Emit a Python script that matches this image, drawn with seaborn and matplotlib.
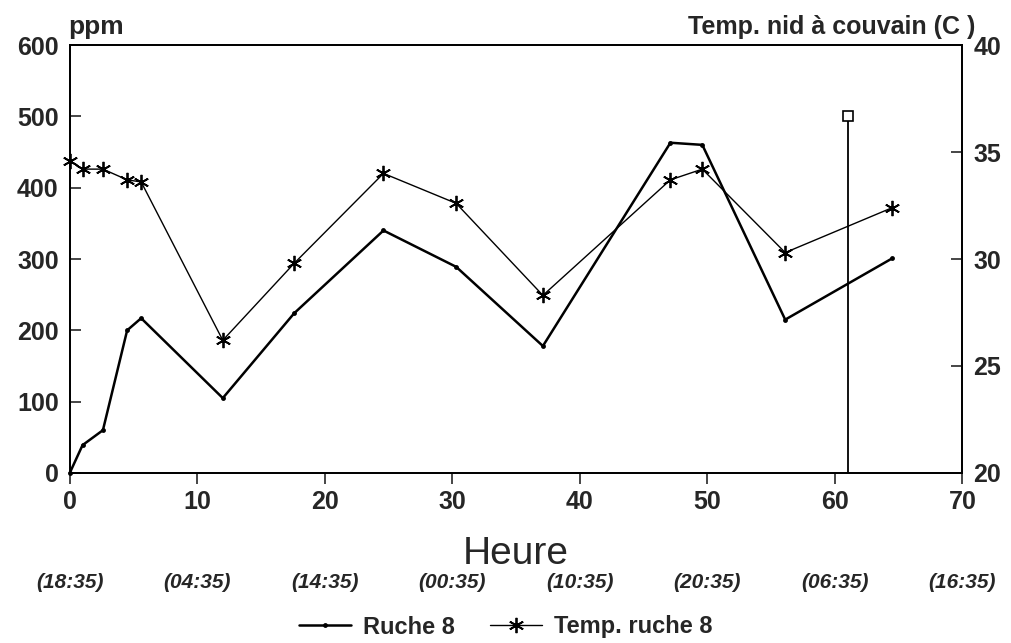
import numpy as np
import seaborn as sns
import matplotlib
matplotlib.use("Agg")
import matplotlib.pyplot as plt

# data
heures = [0, 1, 2.6, 4.5, 5.6, 12, 17.6, 24.6, 30.3, 37.1, 47.1, 49.6, 56.1, 64.5]
ppm_ruche8 = [0, 39, 60, 200, 217, 105, 224, 340, 289, 178, 463, 460, 215, 301]
temp_ruche8 = [34.6, 34.2, 34.2, 33.7, 33.6, 26.2, 29.8, 34.0, 32.6, 28.3, 33.7, 34.2, 30.3, 32.4]
spike_x = [61, 61]
spike_y = [0, 500]
x_ticks = [0, 10, 20, 30, 40, 50, 60, 70]
heure_labels = ["(18:35)", "(04:35)", "(14:35)", "(00:35)", "(10:35)", "(20:35)", "(06:35)", "(16:35)"]

sns.set_style("ticks")
plt.rcParams['font.family'] = ['Liberation Sans', 'DejaVu Sans']

fig = plt.figure(figsize=(10.11, 6.43), dpi=100)
ax = fig.add_axes([0.069, 0.2644, 0.883, 0.6656])
ax2 = ax.twinx()

sns.lineplot(x=heures, y=ppm_ruche8, ax=ax, sort=False, color='black', lw=1.8,
             marker='o', markersize=3.5, markeredgewidth=0, label='Ruche 8', legend=False)
ax.plot(spike_x, spike_y, color='black', lw=1.3, marker='s', markersize=7,
        markerfacecolor='white', markeredgewidth=1.2, markevery=[1])
sns.lineplot(x=heures, y=temp_ruche8, ax=ax2, sort=False, color='black', lw=1.0,
             label='Temp. ruche 8', legend=False)
temp_line = ax2.lines[0]
temp_line.set_linestyle('-')
temp_line.set_marker((6, 2, 0))
temp_line.set_markersize(11)
temp_line.set_markeredgewidth(1.3)
temp_line.set_markeredgecolor('black')
temp_line.set_clip_on(False)
ax.lines[0].set_clip_on(False)

ax.set_xlim(0, 70)
ax.set_ylim(0, 600)
ax2.set_ylim(20, 40)
ax.set_xticks(x_ticks)
ax.set_yticks([0, 100, 200, 300, 400, 500, 600])
ax2.set_yticks([20, 25, 30, 35, 40])

ax.tick_params(axis='y', direction='in', length=8, width=1.2, pad=8, labelsize=18)
ax2.tick_params(axis='y', direction='in', length=8, width=1.2, pad=8, labelsize=18)
ax.tick_params(axis='x', direction='out', length=8, width=1.2, pad=4, labelsize=18)
for lab in ax.get_xticklabels() + ax.get_yticklabels() + ax2.get_yticklabels():
    lab.set_fontweight('bold')

for a in (ax, ax2):
    for s in a.spines.values():
        s.set_linewidth(1.3)
        s.set_color('black')
        s.set_visible(True)

ax.set_xlabel('Heure', fontsize=28, labelpad=16)
ax.set_ylabel('')
ax2.set_ylabel('')
ax.text(-0.002, 1.015, 'ppm', transform=ax.transAxes, ha='left', va='bottom',
        fontsize=19, fontweight='bold')
ax2.text(1.015, 1.015, 'Temp. nid à couvain (C )', transform=ax2.transAxes, ha='right',
         va='bottom', fontsize=18, fontweight='bold')

trans = matplotlib.transforms.blended_transform_factory(ax.transData, fig.transFigure)
for xv, lab in zip(x_ticks, heure_labels):
    ax.text(xv, 1 - 582 / 643, lab, transform=trans, ha='center', va='center',
            fontsize=15, fontstyle='italic', fontweight='bold')

handles = [ax.lines[0], temp_line]
fig.legend(handles, ['Ruche 8', 'Temp. ruche 8'], loc='center', ncol=2,
           bbox_to_anchor=(0.5, 1 - 627 / 643), frameon=False,
           handlelength=2.2, handletextpad=0.5, columnspacing=1.5,
           prop={'size': 17, 'weight': 'bold'})

fig.savefig('out.png', dpi=100)
